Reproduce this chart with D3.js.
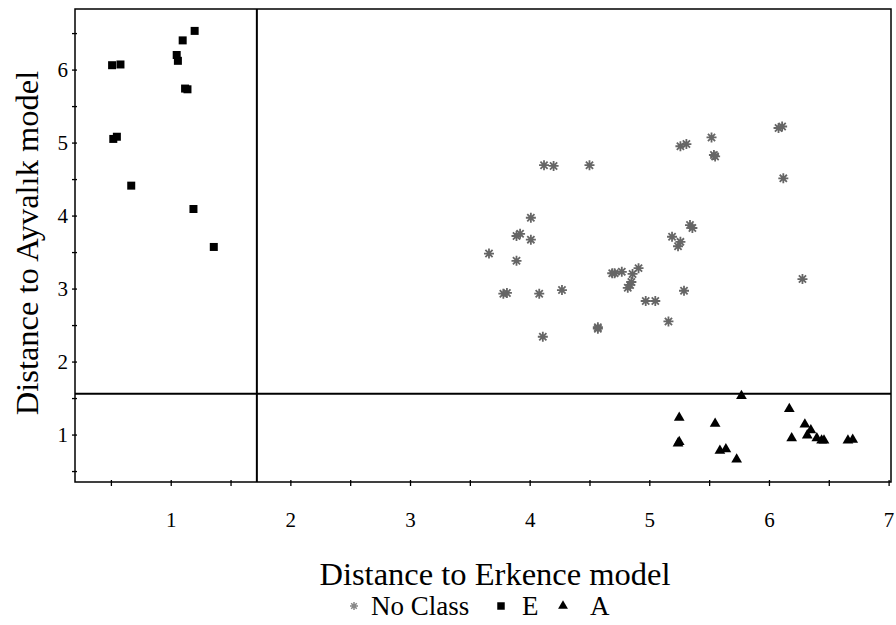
<!DOCTYPE html>
<html>
<head>
<meta charset="utf-8">
<script src="https://cdn.jsdelivr.net/npm/d3@7"></script>
<style>
  body { margin: 0; background: #fff; }
  svg text { font-family: "Liberation Serif", "Times New Roman", serif; }
</style>
</head>
<body>
<svg id="drawing_region"></svg>
<script>
// values: [distance to Erkence, distance to Ayvalik]
const noClass = [
  [4.12, 4.69], [4.20, 4.68], [4.50, 4.69], [5.26, 4.95], [5.31, 4.98],
  [5.52, 5.07], [5.54, 4.83], [5.55, 4.81], [6.08, 5.20], [6.11, 5.22],
  [6.12, 4.51], [4.01, 3.97], [3.89, 3.72], [3.92, 3.75], [4.01, 3.67],
  [3.66, 3.48], [3.89, 3.38], [4.71, 3.21], [4.77, 3.23], [4.69, 3.21],
  [4.86, 3.20], [4.91, 3.28], [4.84, 3.05], [4.85, 3.09], [4.82, 3.01],
  [3.78, 2.93], [3.81, 2.94], [4.08, 2.93], [4.27, 2.98], [4.97, 2.83],
  [5.05, 2.83], [5.29, 2.97], [5.16, 2.55], [4.57, 2.47], [4.57, 2.45],
  [4.11, 2.34], [5.19, 3.71], [5.26, 3.64], [5.24, 3.58], [5.34, 3.87],
  [5.36, 3.83], [6.28, 3.13]
];
const classE = [
  [0.51, 6.06], [0.58, 6.07], [1.05, 6.20], [1.06, 6.12], [1.10, 6.40],
  [1.20, 6.53], [1.12, 5.74], [1.14, 5.73], [0.52, 5.05], [0.55, 5.08],
  [0.67, 4.41], [1.19, 4.09], [1.36, 3.57]
];
const classA = [
  [5.77, 1.53], [6.17, 1.35], [5.25, 1.23], [5.55, 1.15], [6.30, 1.14],
  [6.35, 1.06], [6.32, 0.99], [6.19, 0.95], [6.40, 0.95], [6.44, 0.92],
  [6.46, 0.92], [6.66, 0.92], [6.70, 0.93], [5.24, 0.88], [5.25, 0.90],
  [5.59, 0.78], [5.64, 0.80], [5.73, 0.66]
];
const cutX = 1.72;
const cutY = 1.56;
const majorTicksX = [1, 2, 3, 4, 5, 6, 7];
const minorTicksX = [0.5, 1.5, 2.5, 3.5, 4.5, 5.5, 6.5];
const majorTicksY = [1, 2, 3, 4, 5, 6];
const minorTicksY = [0.5, 1.5, 2.5, 3.5, 4.5, 5.5, 6.5];
const legendLabels = ["No Class", "E", "A"];

const config = {
  width: 896,
  height: 625,
  margin: {top: 9, right: 5, bottom: 143, left: 75}
};

const svg = d3.select('#drawing_region')
  .attr('width', config.width)
  .attr('height', config.height);

const inner_width = config.width - config.margin.left - config.margin.right;
const inner_height = config.height - config.margin.top - config.margin.bottom;

const chart = svg.append('g')
  .attr('transform', `translate(${config.margin.left}, ${config.margin.top})`);

const xscale = d3.scaleLinear().domain([0.2, 7.02]).range([0, inner_width]);
const yscale = d3.scaleLinear().domain([0.35, 6.83]).range([inner_height, 0]);

// frame
chart.append('rect')
  .attr('width', inner_width)
  .attr('height', inner_height)
  .attr('fill', 'none')
  .attr('stroke', '#000')
  .attr('stroke-width', 1.5);

// axes
const xaxis = d3.axisBottom(xscale)
  .tickValues(majorTicksX.concat(minorTicksX))
  .tickSize(4)
  .tickPadding(26)
  .tickFormat(d => majorTicksX.includes(d) ? d : '');
const xg = chart.append('g')
  .attr('transform', `translate(0, ${inner_height})`)
  .call(xaxis);

const yaxis = d3.axisLeft(yscale)
  .tickValues(majorTicksY.concat(minorTicksY))
  .tickSize(3)
  .tickPadding(4)
  .tickFormat(d => majorTicksY.includes(d) ? d : '');
const yg = chart.append('g').call(yaxis);

[xg, yg].forEach(g => {
  g.select('.domain').remove();
  g.selectAll('.tick line').attr('stroke', '#000').attr('stroke-width', 1.3);
  g.selectAll('.tick text')
    .attr('fill', '#000')
    .style('font-size', '21px');
});
xg.selectAll('.tick line').attr('y1', -2);
yg.selectAll('.tick line').attr('x1', 2);

// cut-off lines
chart.append('line')
  .attr('x1', xscale(cutX)).attr('x2', xscale(cutX))
  .attr('y1', 0).attr('y2', inner_height)
  .attr('stroke', '#000').attr('stroke-width', 2);
chart.append('line')
  .attr('x1', 0).attr('x2', inner_width)
  .attr('y1', yscale(cutY)).attr('y2', yscale(cutY))
  .attr('stroke', '#000').attr('stroke-width', 2);

// markers
const starPath = 'M-5,0L5,0M0,-5L0,5M-3.6,-3.6L3.6,3.6M-3.6,3.6L3.6,-3.6';
const square = d3.symbol().type(d3.symbolSquare).size(64)();
const triangle = d3.symbol().type(d3.symbolTriangle).size(50)();

chart.selectAll('.star')
  .data(noClass)
  .join('path')
  .attr('class', 'star')
  .attr('d', starPath)
  .attr('transform', d => `translate(${xscale(d[0])}, ${yscale(d[1])})`)
  .attr('stroke', '#666')
  .attr('stroke-width', 1.8)
  .attr('fill', 'none');

chart.selectAll('.sq')
  .data(classE)
  .join('path')
  .attr('class', 'sq')
  .attr('d', square)
  .attr('transform', d => `translate(${xscale(d[0])}, ${yscale(d[1])})`)
  .attr('fill', '#000');

chart.selectAll('.tri')
  .data(classA)
  .join('path')
  .attr('class', 'tri')
  .attr('d', triangle)
  .attr('transform', d => `translate(${xscale(d[0])}, ${yscale(d[1])})`)
  .attr('fill', '#000');

// axis titles
svg.append('text')
  .attr('x', 495)
  .attr('y', 585)
  .attr('text-anchor', 'middle')
  .style('font-size', '32.5px')
  .text('Distance to Erkence model');

svg.append('text')
  .attr('transform', 'translate(38, 243) rotate(-90)')
  .attr('text-anchor', 'middle')
  .style('font-size', '32.5px')
  .text('Distance to Ayvalık model');

// legend
const legend = svg.append('g').attr('transform', 'translate(0, 615)');
legend.append('path')
  .attr('d', 'M-4,0L4,0M0,-4L0,4M-2.8,-2.8L2.8,2.8M-2.8,2.8L2.8,-2.8')
  .attr('transform', 'translate(354, -9)')
  .attr('stroke', '#888').attr('stroke-width', 1.5);
legend.append('text').attr('x', 371).style('font-size', '27px').text(legendLabels[0]);
legend.append('path')
  .attr('d', d3.symbol().type(d3.symbolSquare).size(56)())
  .attr('transform', 'translate(501, -9)');
legend.append('text').attr('x', 522).style('font-size', '27px').text(legendLabels[1]);
legend.append('path')
  .attr('d', d3.symbol().type(d3.symbolTriangle).size(42)())
  .attr('transform', 'translate(563, -9)');
legend.append('text').attr('x', 590).style('font-size', '27px').text(legendLabels[2]);
</script>
</body>
</html>
